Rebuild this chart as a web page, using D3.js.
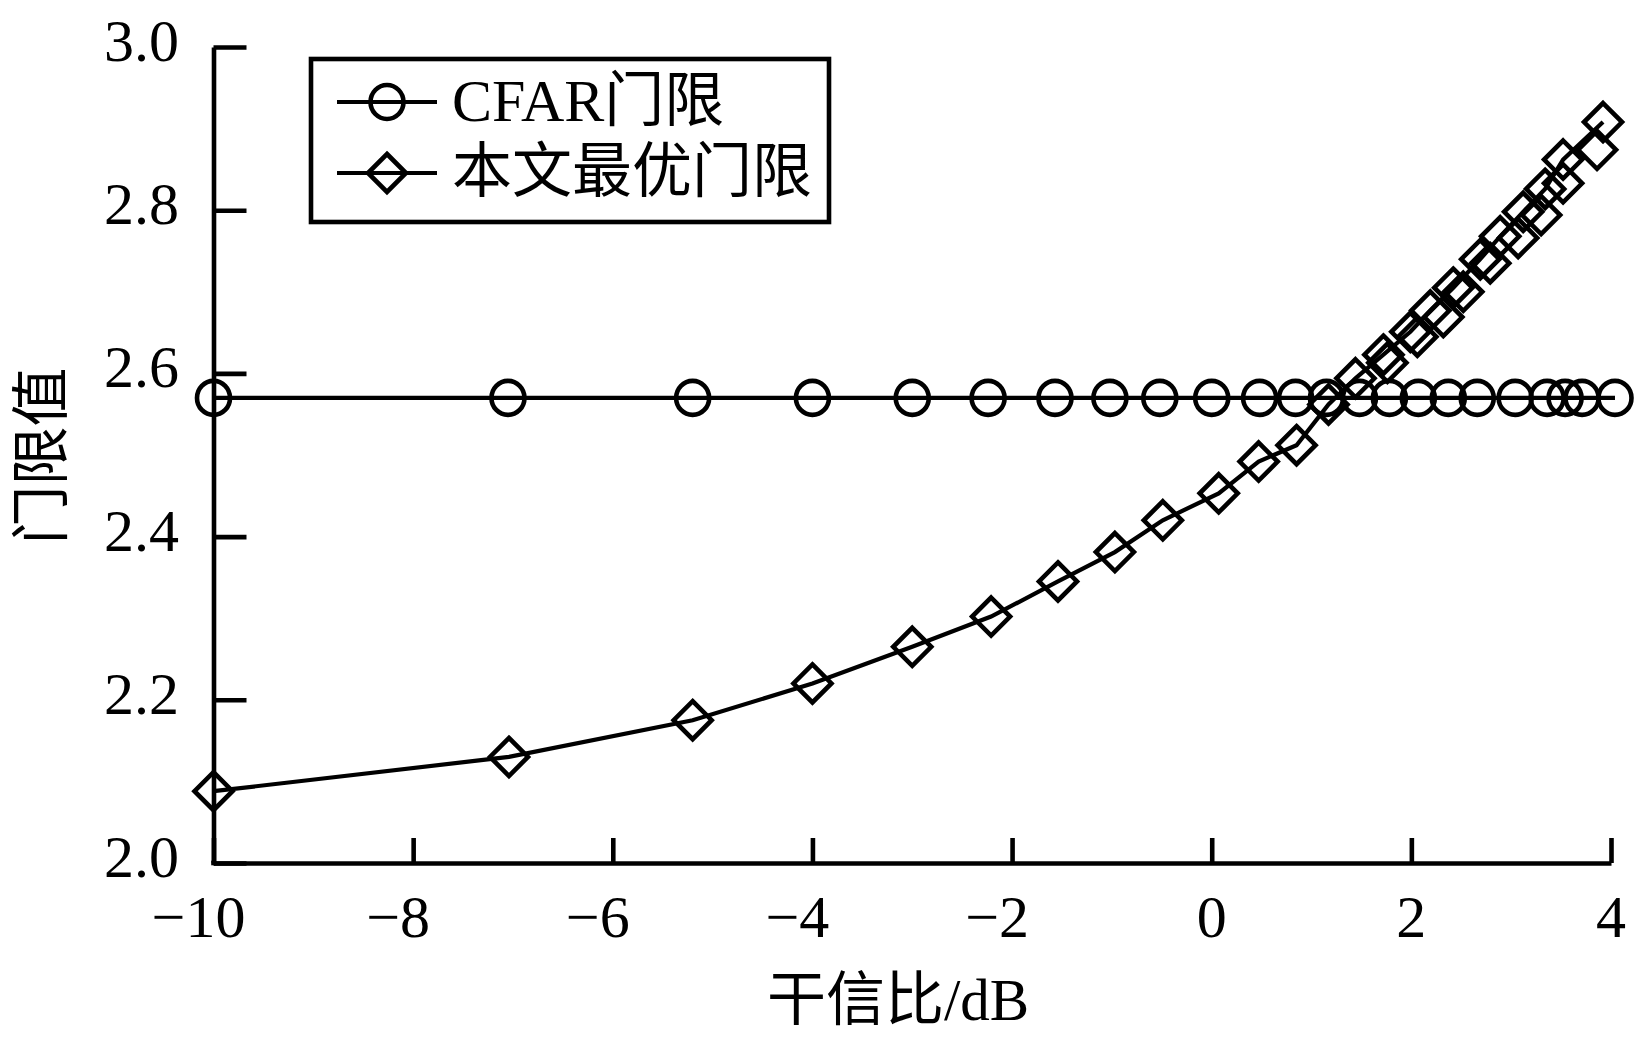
<!DOCTYPE html>
<html>
<head>
<meta charset="utf-8">
<script src="https://cdn.jsdelivr.net/npm/d3@7"></script>
<style>
  html, body { margin: 0; padding: 0; background: #fff; }
  svg { display: block; }
  .lat { font-family: "Liberation Serif", "Times New Roman", "Noto Sans CJK SC", serif; }
  .cjk { font-family: "Liberation Serif", "Noto Sans CJK SC", serif; font-weight: 400; }
</style>
</head>
<body>
<svg id="chart" width="1643" height="1039"></svg>
<script>
// ---- data ----
const xTicks = [-10, -8, -6, -4, -2, 0, 2, 4];
const yTicks = [2.0, 2.2, 2.4, 2.6, 2.8, 3.0];
const yTickLabels = ["2.0", "2.2", "2.4", "2.6", "2.8", "3.0"];

const cfarX = [-10, -7.05, -5.2, -4.0, -3.0, -2.24, -1.57, -1.02, -0.52, 0.0, 0.48, 0.84,
               1.15, 1.48, 1.78, 2.07, 2.37, 2.66, 3.04, 3.36, 3.54, 3.71, 4.04];
const cfarY = [2.57, 2.57, 2.57, 2.57, 2.57, 2.57, 2.57, 2.57, 2.57, 2.57, 2.57, 2.57,
               2.57, 2.57, 2.57, 2.57, 2.57, 2.57, 2.57, 2.57, 2.57, 2.57, 2.57];

const optX = [-10, -7.04, -5.2, -4.0, -3.0, -2.21, -1.54, -0.97, -0.49, 0.07, 0.47, 0.85,
              1.17, 1.44, 1.72, 1.99, 2.19, 2.42, 2.69, 2.89, 3.12, 3.34, 3.52, 3.92];
const optY = [2.088, 2.13, 2.175, 2.22, 2.265, 2.302, 2.345, 2.381, 2.42, 2.453, 2.492, 2.512,
              2.562, 2.594, 2.623, 2.651, 2.677, 2.705, 2.74, 2.768, 2.798, 2.826, 2.862, 2.908];
// second row of diamond markers visible along the steep part
const optX2 = [1.76, 2.06, 2.32, 2.52, 2.79, 3.07, 3.30, 3.52, 3.86];
const optY2 = [2.613, 2.645, 2.669, 2.70, 2.735, 2.766, 2.794, 2.833, 2.874];

const seriesNames = ["CFAR门限", "本文最优门限"];
const xTitle = "干信比/dB";
const yTitle = "门限值";

// ---- chart ----
const svg = d3.select("#chart");
const x = d3.scaleLinear().domain([-10, 4]).range([213.5, 1611]);
const y = d3.scaleLinear().domain([2, 3]).range([863, 47]);

const AX = 4.6;
// x axis
const gx = svg.append("g").attr("transform", `translate(0,${y(2)})`)
  .call(d3.axisBottom(x).tickValues(xTicks).tickSizeInner(-25).tickSizeOuter(0).tickFormat(""));
gx.select(".domain").attr("stroke", "#000").attr("stroke-width", AX);
gx.selectAll(".tick line").attr("stroke", "#000").attr("stroke-width", AX);

// y axis
const gy = svg.append("g").attr("transform", `translate(${x(-10)},0)`)
  .call(d3.axisLeft(y).tickValues(yTicks).tickSizeInner(-33).tickSizeOuter(0).tickFormat(""));
gy.select(".domain").attr("stroke", "#000").attr("stroke-width", AX);
gy.selectAll(".tick line").attr("stroke", "#000").attr("stroke-width", AX);

svg.append("rect").attr("x", x(-10) - AX/2).attr("y", y(2) - AX/2).attr("width", AX).attr("height", AX);

// tick labels
const fmt = d3.format("d");
svg.append("g").selectAll("text").data(xTicks).join("text")
  .attr("class", "lat")
  .attr("x", d => x(d) + (d < 0 ? -15 : 0))
  .attr("y", 937)
  .attr("text-anchor", "middle")
  .attr("font-size", 60)
  .text(d => fmt(d));

svg.append("g").selectAll("text").data(yTicks).join("text")
  .attr("class", "lat")
  .attr("x", 179)
  .attr("y", d => y(d) + 14)
  .attr("text-anchor", "end")
  .attr("font-size", 60)
  .text((d, i) => yTickLabels[i]);

// axis titles
svg.append("text").attr("class", "cjk")
  .attr("x", 898).attr("y", 1020)
  .attr("text-anchor", "middle").attr("font-size", 59)
  .text(xTitle);

svg.append("text").attr("class", "cjk")
  .attr("transform", `translate(62,456) rotate(-90)`)
  .attr("text-anchor", "middle").attr("font-size", 59)
  .text(yTitle);

// series
const SW = 4.2;
const MW = 4.6;
const line = d3.line().x(d => x(d[0])).y(d => y(d[1]));
const cfar = cfarX.map((v, i) => [v, cfarY[i]]);
const opt = optX.map((v, i) => [v, optY[i]]);
const opt2 = optX2.map((v, i) => [v, optY2[i]]);

const R = 17;
const D = 19;
const diamondPath = (cx, cy) => `M${cx},${cy - D}L${cx + D},${cy}L${cx},${cy + D}L${cx - D},${cy}Z`;

svg.append("path").datum(cfar).attr("d", line)
  .attr("fill", "none").attr("stroke", "#000").attr("stroke-width", SW);
svg.append("g").selectAll("ellipse").data(cfar).join("ellipse")
  .attr("cx", d => x(d[0])).attr("cy", d => y(d[1]))
  .attr("rx", R - 0.5).attr("ry", R)
  .attr("fill", "none").attr("stroke", "#000").attr("stroke-width", MW);

svg.append("path").datum(opt).attr("d", line)
  .attr("fill", "none").attr("stroke", "#000").attr("stroke-width", SW);
svg.append("g").selectAll("path").data(opt.concat(opt2)).join("path")
  .attr("d", d => diamondPath(x(d[0]), y(d[1])))
  .attr("fill", "none").attr("stroke", "#000").attr("stroke-width", MW)
  .attr("stroke-linejoin", "miter");

// legend
const lg = svg.append("g");
lg.append("rect").attr("x", 311).attr("y", 59).attr("width", 518).attr("height", 163)
  .attr("fill", "#fff").attr("stroke", "#000").attr("stroke-width", 4.6);
const rows = [102, 173];
rows.forEach((ry, i) => {
  lg.append("line").attr("x1", 337).attr("x2", 437).attr("y1", ry).attr("y2", ry)
    .attr("stroke", "#000").attr("stroke-width", SW);
  if (i === 0) {
    lg.append("ellipse").attr("cx", 387).attr("cy", ry).attr("rx", R - 0.5).attr("ry", R)
      .attr("fill", "none").attr("stroke", "#000").attr("stroke-width", MW);
  } else {
    lg.append("path").attr("d", diamondPath(387, ry))
      .attr("fill", "none").attr("stroke", "#000").attr("stroke-width", MW);
  }
  lg.append("text").attr("class", "cjk")
    .attr("x", 452).attr("y", ry + 19)
    .attr("font-size", 60)
    .text(seriesNames[i]);
});
</script>
</body>
</html>
